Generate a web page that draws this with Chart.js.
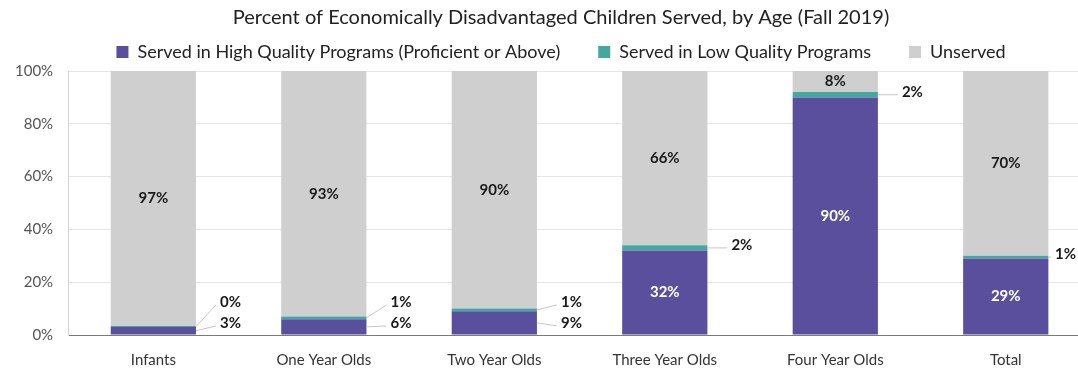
<!DOCTYPE html>
<html>
<head>
<meta charset="utf-8">
<script src="https://cdn.jsdelivr.net/npm/chart.js@4.4.1/dist/chart.umd.min.js"></script>
<style>
	html, body { margin: 0; padding: 0; overflow: hidden; background: #fff; }
	#wrap { position: absolute; left: 0; top: 0; width: 1122px; height: 368px; }
</style>
</head>
<body>
<div id="wrap"><canvas id="myChart"></canvas></div>
<script>
const categories = ['Infants', 'One Year Olds', 'Two Year Olds', 'Three Year Olds', 'Four Year Olds', 'Total'];
const highQuality = [3, 6, 9, 32, 90, 29];
const lowQuality = [0.4, 1, 1, 2, 2, 1];
const unserved = [97, 93, 90, 66, 8, 70];
const yTicks = [0, 20, 40, 60, 80, 100];

const FONT = 'Lato';
const VISIBLE_RIGHT = 1076;

// labels: inside for big segments, outside with leader lines for thin ones
const barLabels = {
	id: 'barLabels',
	afterDatasetsDraw(chart) {
		const ctx = chart.ctx;
		const hiMeta = chart.getDatasetMeta(0);
		const loMeta = chart.getDatasetMeta(1);
		const unMeta = chart.getDatasetMeta(2);
		const bottom = chart.chartArea.bottom;
		ctx.save();
		ctx.font = 'bold 15px ' + FONT;
		ctx.textBaseline = 'middle';

		const outside = (text, fromX, fromY, y) => {
			const w = ctx.measureText(text).width;
			const x = Math.min(fromX + 24, VISIBLE_RIGHT - w);
			ctx.strokeStyle = '#c8c8c8';
			ctx.lineWidth = 1;
			ctx.beginPath();
			ctx.moveTo(fromX, fromY);
			ctx.lineTo(x - 4, y + 3);
			ctx.stroke();
			ctx.fillStyle = '#1a1a1a';
			ctx.textAlign = 'left';
			ctx.fillText(text, x, y);
		};

		categories.forEach((c, i) => {
			const hi = hiMeta.data[i], lo = loMeta.data[i], un = unMeta.data[i];
			const right = hi.x + hi.width / 2;

			ctx.fillStyle = '#1a1a1a';
			ctx.textAlign = 'center';
			ctx.fillText(Math.round(unserved[i]) + '%', un.x, (un.y + un.base) / 2);

			const hiMid = (hi.y + hi.base) / 2;
			let hiLabelY = null;
			if (highQuality[i] >= 20) {
				ctx.fillStyle = '#ffffff';
				ctx.textAlign = 'center';
				ctx.fillText(Math.round(highQuality[i]) + '%', hi.x, hiMid);
			} else {
				hiLabelY = Math.min(hiMid, bottom - 12);
				outside(Math.round(highQuality[i]) + '%', right, hiMid, hiLabelY);
			}

			const loMid = (lo.y + lo.base) / 2;
			const loLabelY = hiLabelY !== null ? Math.min(loMid - 6, hiLabelY - 21) : loMid - 3;
			outside(Math.round(lowQuality[i]) + '%', right, loMid, loLabelY);
		});
		ctx.restore();
	}
};

const ctx = document.getElementById('myChart').getContext('2d');

let myChart = new Chart(ctx, {
	type: 'bar',
	data: {
		labels: categories,
		datasets: [{
			label: 'Served in High Quality Programs (Proficient or Above)',
			data: highQuality,
			backgroundColor: '#5a4f9c'
		}, {
			label: 'Served in Low Quality Programs',
			data: lowQuality,
			backgroundColor: '#43a89e'
		}, {
			label: 'Unserved',
			data: unserved,
			backgroundColor: '#d0cfcf'
		}]
	},
	options: {
		responsive: true,
		maintainAspectRatio: false,
		animation: false,
		datasets: {
			bar: { categoryPercentage: 1, barPercentage: 0.5 }
		},
		layout: { padding: { left: 0, right: 0, top: 0, bottom: -9 } },
		plugins: {
			title: {
				display: true,
				text: 'Percent of Economically Disadvantaged Children Served, by Age (Fall 2019)',
				color: '#222',
				font: { family: FONT, size: 20, weight: 'normal' },
				padding: { top: 6, bottom: -25 }
			},
			legend: {
				labels: {
					color: '#222',
					font: { family: FONT, size: 18 },
					boxWidth: 12,
					boxHeight: 12,
					padding: 38
				}
			},
			tooltip: { enabled: false }
		},
		scales: {
			x: {
				stacked: true,
				grid: { display: false },
				border: { display: true, color: '#7a7a7a', width: 1 },
				ticks: { color: '#333', font: { family: FONT, size: 15 }, padding: 8 }
			},
			y: {
				stacked: true,
				min: 0,
				max: 100,
				afterBuildTicks: (axis) => { axis.ticks = yTicks.map(v => ({ value: v })); },
				grid: { color: '#e6e6e6', drawTicks: false },
				border: { display: true, color: '#d4d4d4' },
				ticks: {
					color: '#555',
					font: { family: FONT, size: 15 },
					padding: 15,
					callback: (v) => v + '%'
				}
			},
			// empty spacer on the right, keeps title/legend centred like the original
			yRight: {
				position: 'right',
				grid: { display: false },
				border: { display: false },
				ticks: { display: false },
				afterFit: (scale) => { scale.width = 31; }
			}
		}
	},
	plugins: [barLabels]
});
</script>
</body>
</html>
